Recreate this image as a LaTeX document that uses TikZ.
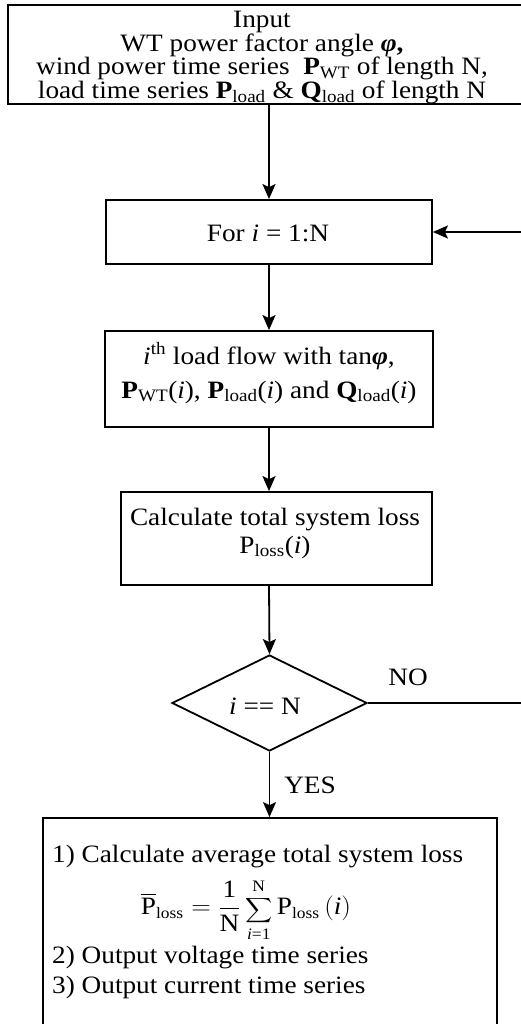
\documentclass[tikz,border=0pt]{standalone}
\usepackage{amsmath}
\usepackage{graphicx}
\usepackage{fontspec}
\setmainfont[FakeStretch=1.09]{Liberation Serif}
\newfontfamily\plainserif{Liberation Serif}
\usetikzlibrary{shapes.geometric,arrows.meta}
\newcommand{\bP}{\textbf{P}}
\newcommand{\bQ}{\textbf{Q}}
\newcommand{\ii}{\textit{i}}
\newcommand{\subtxt}[1]{\textsubscript{#1}}
\newcommand{\phib}{\textbf{\textit{φ}}}
\newcommand{\uprtxt}[1]{\mbox{\plainserif #1}}
\newcommand{\smalltxt}[1]{\mbox{\plainserif\fontsize{16}{16}\selectfont #1}}
\begin{document}
\begin{tikzpicture}[x=1pt,y=-1pt,
  every node/.style={font=\fontsize{25}{25}\selectfont},
  box/.style={draw, line width=1.8pt, inner sep=0pt, line join=miter},
  lbl/.style={inner sep=0pt, anchor=base},
  lblw/.style={inner sep=0pt, anchor=base west},
  flow/.style={line width=1.8pt, -{Stealth[length=15pt,width=13pt,inset=3pt]}},
  decision/.style={diamond, aspect=2, draw, line width=1.8pt, inner sep=0pt,
    minimum width=195pt, minimum height=96pt}]
\useasboundingbox (0,0) rectangle (521,1024);
\clip (0,0) rectangle (521,1024);

% input block
\node[box, minimum width=522pt, minimum height=99pt] (input) at (269,54.5) {};
\node[lbl] (in1) at (262,28) {Input};
\node[lbl] (in2) at (262,51.5) {WT power factor angle \phib\textbf{,}};
\node[lbl] (in3) at (262,75) {wind power time series~ \bP\subtxt{WT} of length N,};
\node[lbl] (in4) at (262,98.5) {load time series \bP\subtxt{load} \& \bQ\subtxt{load} of length N};

% loop header
\node[box, minimum width=326pt, minimum height=64pt] (for) at (269,232) {};
\node[lbl] (fortext) at (268,241) {For \ii{} = 1:N};

% load flow
\node[box, minimum width=328pt, minimum height=96pt] (lf) at (269,379) {};
\node[lbl] (lf1) at (269,364) {\ii\textsuperscript{th} load flow with tan\phib,};
\node[lbl] (lf2) at (269,398) {\bP\subtxt{WT}(\ii), \bP\subtxt{load}(\ii) and \bQ\subtxt{load}(\ii)};

% loss calculation
\node[box, minimum width=311pt, minimum height=93pt] (calc) at (276.5,538.5) {};
\node[lbl] (calc1) at (275,525) {Calculate total system loss};
\node[lbl] (calc2) at (275,553) {P\subtxt{loss}(\ii)};

% termination test
\node[decision] (dec) at (269.5,703) {};
\node[lbl] (dectext) at (265,714) {\ii{} == N};

% output block
\node[box, minimum width=454pt, minimum height=242pt] (out) at (270,939) {};
\node[lblw] (o1) at (52,862) {1) Calculate average total system loss};
\node[inner sep=0pt] (o2) at (246,910) {\scalebox{1.09}[1]{$\overline{\uprtxt{P}}_{\smalltxt{loss}} = \dfrac{\uprtxt{1}}{\uprtxt{N}}\mathop{\mbox{\fontsize{18}{18}\selectfont$\displaystyle\sum$}}\limits_{\smalltxt{\textit{i}=1}}^{\smalltxt{N}} \uprtxt{P}_{\smalltxt{loss}}\left(\uprtxt{\textit{i}}\right)$}};
\node[lblw] (o3) at (52,963) {2) Output voltage time series};
\node[lblw] (o4) at (52,993) {3) Output current time series};

% connectors
\coordinate (ax) at (269,0);
\coordinate (backA) at (540,703);
\draw[flow] (input.south -| ax) -- (for.north -| ax);
\draw[flow] (for.south -| ax) -- (lf.north -| ax);
\draw[flow] (lf.south -| ax) -- (calc.north -| ax);
\draw[flow] (calc.south -| ax) -- (dec.north);
\draw[flow] (dec.south) -- (out.north -| dec.south);
\draw[flow] (dec.east) -- (backA) -- (backA |- for.east) -- (for.east);

% branch labels
\node[lbl] (no) at (408,685) {NO};
\node[lbl] (yes) at (310,793) {YES};
\end{tikzpicture}
\end{document}
